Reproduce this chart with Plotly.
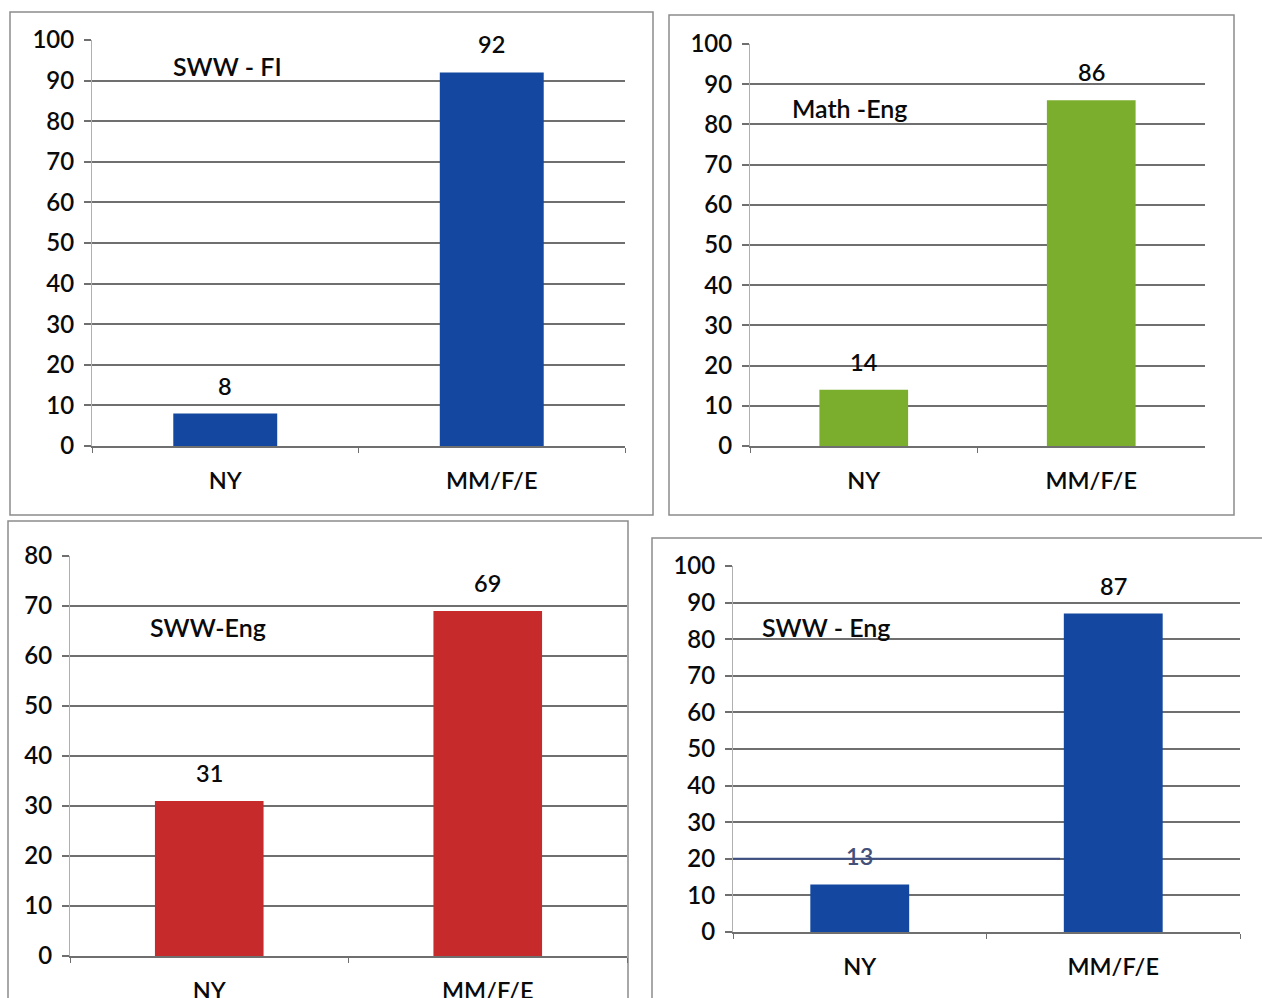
import plotly.graph_objects as go

# ---- data -------------------------------------------------------------
categories = ["NY", "MM/F/E"]
panel_titles = ["SWW - FI", "Math -Eng", "SWW-Eng", "SWW - Eng"]
sww_fi = [8, 92]
math_eng = [14, 86]
sww_eng_red = [31, 69]
sww_eng_blue = [13, 87]
y_max = [100, 100, 80, 100]

W, H = 1262, 998
FONT = "Lato, 'Open Sans', sans-serif"
GRID = "#6f6f6f"
TEXT = "#0a0a0a"
WEIGHT = 600


def px_x(p):
    return p / W


def px_y(p):
    return 1 - p / H


# plot-area geometry for each panel (pixels): x0, x1, y_bottom, y_top
areas = [
    (92, 625, 446, 40),
    (750, 1205, 446, 44),
    (70, 627, 956, 556),
    (733, 1240, 932, 566),
]
# title positions (pixels)
title_pos = [(227, 66), (849, 108), (208, 627), (826, 627)]
# panel frames (pixels)
frames = [
    (10, 12, 653, 515),
    (669, 15, 1234, 515),
    (8, 521, 628, 1010),
    (652, 538, 1275, 1010),
]

series = [sww_fi, math_eng, sww_eng_red, sww_eng_blue]
colors = ["#1448a0", "#7cae2e", "#c62a2a", "#1448a0"]
# value-label colours per bar
label_colors = [
    [TEXT, TEXT],
    [TEXT, TEXT],
    [TEXT, TEXT],
    ["#44507a", TEXT],
]

fig = go.Figure()
layout = dict(
    width=W,
    height=H,
    margin=dict(l=0, r=0, t=0, b=0, autoexpand=False),
    paper_bgcolor="white",
    plot_bgcolor="white",
    showlegend=False,
    font=dict(family=FONT, size=22, color=TEXT),
    annotations=[],
    shapes=[],
)

for i, (vals, col) in enumerate(zip(series, colors)):
    n = i + 1
    xa = "x" if n == 1 else f"x{n}"
    ya = "y" if n == 1 else f"y{n}"
    fig.add_trace(go.Bar(
        x=categories, y=vals, width=0.39,
        marker=dict(color=col, line=dict(width=0)),
        xaxis=xa, yaxis=ya, hoverinfo="x+y",
    ))
    x0, x1, yb, yt = areas[i]
    layout[f"xaxis{n if n > 1 else ''}"] = dict(
        domain=[px_x(x0), px_x(x1)],
        anchor=ya,
        automargin=False,
        type="category",
        categoryorder="array",
        categoryarray=categories,
        range=[-0.5, 1.5],
        showline=True, linecolor=GRID, linewidth=1.5,
        ticks="outside", tickson="boundaries", ticklen=5, tickcolor=GRID,
        showgrid=False,
        ticklabelstandoff=13,
        tickfont=dict(family=FONT, size=23.5, color=TEXT, weight=WEIGHT),
    )
    layout[f"yaxis{n if n > 1 else ''}"] = dict(
        domain=[px_y(yb), px_y(yt)],
        anchor=xa,
        automargin=False,
        range=[0, y_max[i]],
        dtick=10,
        showgrid=True, gridcolor=GRID, gridwidth=1.5,
        zeroline=False,
        showline=True, linecolor="#b0b0b0", linewidth=1,
        ticks="outside", ticklen=7, tickcolor=GRID, tickwidth=1.5,
        ticklabelstandoff=5,
        tickfont=dict(family=FONT, size=24, color=TEXT, weight=WEIGHT),
    )
    # value labels above each bar
    for j, (c, v) in enumerate(zip(categories, vals)):
        layout["annotations"].append(dict(
            x=c, y=v, xref=xa, yref=ya, text=str(v), showarrow=False,
            yanchor="bottom", yshift=12,
            font=dict(family=FONT, size=23.5, color=label_colors[i][j],
                      weight=WEIGHT),
        ))
    # panel title inside the plot area
    tx, ty = title_pos[i]
    layout["annotations"].append(dict(
        x=px_x(tx), y=px_y(ty), xref="paper", yref="paper",
        text=panel_titles[i], showarrow=False,
        xanchor="center", yanchor="middle",
        font=dict(family=FONT, size=25, color=TEXT, weight=WEIGHT),
    ))
    # frame around the panel
    fx0, fy0, fx1, fy1 = frames[i]
    layout["shapes"].append(dict(
        type="rect", xref="paper", yref="paper",
        x0=px_x(fx0), x1=px_x(fx1), y0=px_y(fy1), y1=px_y(fy0),
        line=dict(color="#8c8c8c", width=1.5), layer="below",
    ))

# darker rule across the 20 line in the last panel
layout["shapes"].append(dict(
    type="line", xref="x4 domain", yref="y4",
    x0=0, x1=0.645, y0=20, y1=20,
    line=dict(color="#3d4f85", width=2), layer="above",
))

fig.update_layout(**layout)
fig.write_html("out.html")
